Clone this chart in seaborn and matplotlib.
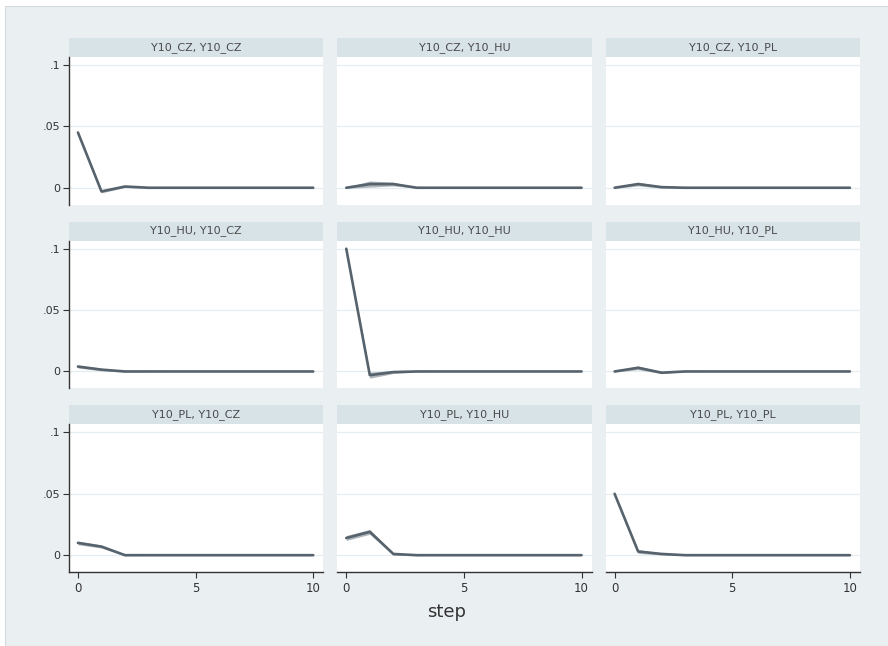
import numpy as np
import pandas as pd
import matplotlib
matplotlib.use("Agg")
import matplotlib.pyplot as plt
from matplotlib.patches import Rectangle
import seaborn as sns

# impulse-response values (steps 0..10)
steps = list(range(11))
panels = ["Y10_CZ, Y10_CZ", "Y10_CZ, Y10_HU", "Y10_CZ, Y10_PL",
          "Y10_HU, Y10_CZ", "Y10_HU, Y10_HU", "Y10_HU, Y10_PL",
          "Y10_PL, Y10_CZ", "Y10_PL, Y10_HU", "Y10_PL, Y10_PL"]

irf_cz_cz = [0.045, -0.003, 0.001, 0.0, 0, 0, 0, 0, 0, 0, 0]
irf_cz_hu = [0.0, 0.003, 0.003, 0.0, 0, 0, 0, 0, 0, 0, 0]
irf_cz_pl = [0.0, 0.003, 0.0005, 0.0, 0, 0, 0, 0, 0, 0, 0]
irf_hu_cz = [0.004, 0.0015, 0.0, 0.0, 0, 0, 0, 0, 0, 0, 0]
irf_hu_hu = [0.1, -0.003, -0.0005, 0.0, 0, 0, 0, 0, 0, 0, 0]
irf_hu_pl = [0.0, 0.003, -0.001, 0.0, 0, 0, 0, 0, 0, 0, 0]
irf_pl_cz = [0.01, 0.007, 0.0, 0.0, 0, 0, 0, 0, 0, 0, 0]
irf_pl_hu = [0.014, 0.019, 0.001, 0.0, 0, 0, 0, 0, 0, 0, 0]
irf_pl_pl = [0.05, 0.003, 0.001, 0.0, 0, 0, 0, 0, 0, 0, 0]

# half-width of the confidence band
ci_cz_cz = [0.001, 0.0012, 0.0008, 0.0003, 0, 0, 0, 0, 0, 0, 0]
ci_cz_hu = [0.0005, 0.0025, 0.0015, 0.0003, 0, 0, 0, 0, 0, 0, 0]
ci_cz_pl = [0.0005, 0.0015, 0.0008, 0.0002, 0, 0, 0, 0, 0, 0, 0]
ci_hu_cz = [0.0012, 0.001, 0.0005, 0.0002, 0, 0, 0, 0, 0, 0, 0]
ci_hu_hu = [0.001, 0.0025, 0.0012, 0.0004, 0, 0, 0, 0, 0, 0, 0]
ci_hu_pl = [0.0005, 0.0015, 0.0008, 0.0002, 0, 0, 0, 0, 0, 0, 0]
ci_pl_cz = [0.0015, 0.0012, 0.0005, 0.0002, 0, 0, 0, 0, 0, 0, 0]
ci_pl_hu = [0.002, 0.002, 0.001, 0.0004, 0, 0, 0, 0, 0, 0, 0]
ci_pl_pl = [0.001, 0.0015, 0.0008, 0.0003, 0, 0, 0, 0, 0, 0, 0]

irfs = [irf_cz_cz, irf_cz_hu, irf_cz_pl, irf_hu_cz, irf_hu_hu, irf_hu_pl,
        irf_pl_cz, irf_pl_hu, irf_pl_pl]
cis = [ci_cz_cz, ci_cz_hu, ci_cz_pl, ci_hu_cz, ci_hu_hu, ci_hu_pl,
       ci_pl_cz, ci_pl_hu, ci_pl_pl]

rows = []
for name, irf, ci in zip(panels, irfs, cis):
    for s, v, c in zip(steps, irf, ci):
        rows.append({"panel": name, "step": s, "irf": v, "lo": v - c, "hi": v + c})
df = pd.DataFrame(rows)

yticks = [0, 0.05, 0.1]
ytick_labels = ["0", ".05", ".1"]
xticks = [0, 5, 10]

bg = "#eaeff2"
strip_col = "#d8e3e8"
line_col = "#56626c"
band_col = "#939ea6"

sns.set_style("white")
plt.rcParams["font.family"] = ["DejaVu Sans"]

g = sns.FacetGrid(df, col="panel", col_wrap=3, col_order=panels,
                  sharex=True, sharey=True, despine=False)
g.figure.set_size_inches(8.88, 6.46)
g.figure.set_dpi(100)


def draw(data, **kw):
    ax = plt.gca()
    ax.fill_between(data["step"], data["lo"], data["hi"], color=band_col,
                    alpha=0.75, linewidth=0, zorder=2)
    sns.lineplot(data=data, x="step", y="irf", ax=ax, color=line_col,
                 linewidth=1.9, zorder=3)


g.map_dataframe(draw)

fig = g.figure
fig.patch.set_facecolor("white")
fig.patches.append(Rectangle((5 / 888, 0), 1, 1 - 6 / 646, transform=fig.transFigure,
                             facecolor=bg, edgecolor="#d3dbdf", linewidth=0.8,
                             zorder=-10))
fig.subplots_adjust(left=69 / 888, right=860 / 888, top=1 - 57 / 646,
                    bottom=1 - 572 / 646, wspace=0.055, hspace=0.245)

for i, (ax, name) in enumerate(zip(g.axes.flat, panels)):
    r, c = divmod(i, 3)
    ax.set_facecolor("white")
    ax.set_xlim(-0.38, 10.43)
    ax.set_ylim(-0.0137, 0.1065)
    ax.set_title("")
    for y in yticks:
        ax.axhline(y, color="#e6edf0", linewidth=0.9, zorder=1)
    for s in ax.spines.values():
        s.set_visible(False)
    ax.add_patch(Rectangle((0, 1.0), 1, 0.13, transform=ax.transAxes,
                           facecolor=strip_col, edgecolor="none", clip_on=False))
    ax.text(0.5, 1.066, name, transform=ax.transAxes, ha="center", va="center",
            fontsize=8, color="#4a4a4a")
    ax.set_xlabel("")
    ax.set_ylabel("")
    if c == 0:
        ax.spines["left"].set_visible(True)
        ax.spines["left"].set_color("#333333")
        ax.spines["left"].set_linewidth(1.0)
        ax.set_yticks(yticks)
        ax.set_yticklabels(ytick_labels)
        ax.tick_params(axis="y", left=True, length=4, width=0.8, color="#333333",
                       labelsize=8, labelcolor="#333333", pad=2)
    else:
        ax.tick_params(axis="y", left=False, labelleft=False)
    if r == 2:
        ax.spines["bottom"].set_visible(True)
        ax.spines["bottom"].set_color("#333333")
        ax.spines["bottom"].set_linewidth(1.0)
        ax.set_xticks(xticks)
        ax.set_xticklabels([str(x) for x in xticks])
        ax.tick_params(axis="x", bottom=True, labelbottom=True, length=4, width=0.8,
                       color="#333333", labelsize=8.5, labelcolor="#333333", pad=3)
    else:
        ax.tick_params(axis="x", bottom=False, labelbottom=False)

fig.text(447 / 888, 1 - 612 / 646, "step", ha="center", va="center",
         fontsize=13, color="#333333")

fig.savefig("out.png", dpi=100, facecolor=fig.get_facecolor())
